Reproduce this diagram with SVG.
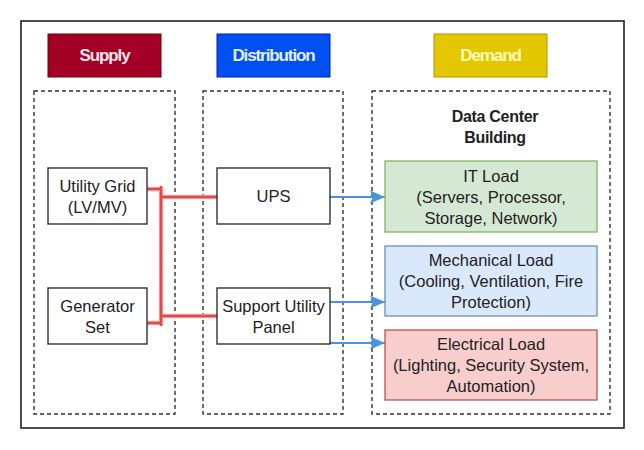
<svg xmlns="http://www.w3.org/2000/svg" width="644" height="450" viewBox="0 0 644 450">
<defs>
<marker id="ah" viewBox="0 0 15 13" refX="15" refY="6.5" markerWidth="15" markerHeight="13" markerUnits="userSpaceOnUse" orient="auto">
<path d="M0,0 L15,6.5 L0,13 L3,6.5 Z" fill="#4596de"/>
</marker>
<style>
.frame{fill:#fff;stroke:#222;stroke-width:1.6}
.dash{fill:none;stroke:#333;stroke-width:1.4;stroke-dasharray:4 3}
.node{fill:#fff;stroke:#222;stroke-width:1.3}
.hdr{font-family:"Liberation Sans",Arial,sans-serif;font-size:17px;font-weight:bold;letter-spacing:-1.1px;text-anchor:middle}
.t{font-family:"Liberation Sans",Arial,sans-serif;font-size:16.5px;fill:#222;text-anchor:middle}
.tb{font-family:"Liberation Sans",Arial,sans-serif;font-size:16px;font-weight:bold;letter-spacing:-0.3px;fill:#222;text-anchor:middle}
.red{fill:none;stroke:#e04a4a;stroke-width:2.5}
.redh{fill:none;stroke:#f4b0b0;stroke-width:4.5}
.blue{fill:none;stroke:#4596de;stroke-width:2.2}
</style>
</defs>
<rect x="0" y="0" width="644" height="450" fill="#fff"/>
<rect class="frame" x="21" y="21" width="603" height="407"/>

<g id="supply-header">
<rect x="48" y="34" width="113" height="43" fill="#a20025" stroke="#6f0000" stroke-width="1"/>
<text class="hdr" x="104.5" y="61" fill="#fde6ea">Supply</text>
</g>
<g id="distribution-header">
<rect x="217" y="34" width="113" height="43" fill="#0050ef" stroke="#001dbc" stroke-width="1"/>
<text class="hdr" x="273.5" y="61" fill="#e3eeff">Distribution</text>
</g>
<g id="demand-header">
<rect x="434" y="34" width="113" height="43" fill="#e3c800" stroke="#b09500" stroke-width="1"/>
<text class="hdr" x="490.5" y="61" fill="#fffbb8">Demand</text>
</g>

<g id="supply-group"><rect class="dash" x="34" y="91" width="141" height="323"/></g>
<g id="distribution-group"><rect class="dash" x="203" y="91" width="140" height="323"/></g>
<g id="demand-group">
<rect class="dash" x="372" y="91" width="238" height="323"/>
<text class="tb" x="495" y="122">Data Center</text>
<text class="tb" x="495" y="143">Building</text>
</g>

<g id="connectors">
<path class="redh" d="M147,189 H161 V323 H147 M161,197 H217 M161,316 H217"/>
<path class="red" d="M147,189 H161 V323 H147 M161,197 H217 M161,316 H217 M161,186 V326"/>
<path class="blue" d="M330,197 H385" marker-end="url(#ah)"/>
<path class="blue" d="M330,302 H385" marker-end="url(#ah)"/>
<path class="blue" d="M330,343 H385" marker-end="url(#ah)"/>
</g>

<g id="utility-grid">
<rect class="node" x="48" y="168" width="99" height="56"/>
<text class="t" x="97.5" y="192">Utility Grid</text>
<text class="t" x="97.5" y="213">(LV/MV)</text>
</g>
<g id="generator-set">
<rect class="node" x="48" y="288" width="99" height="56"/>
<text class="t" x="97.5" y="312">Generator</text>
<text class="t" x="97.5" y="333">Set</text>
</g>
<g id="ups">
<rect class="node" x="217" y="168" width="113" height="56"/>
<text class="t" x="273.5" y="202">UPS</text>
</g>
<g id="support-utility-panel">
<rect class="node" x="217" y="288" width="113" height="56"/>
<text class="t" x="273.5" y="312">Support Utility</text>
<text class="t" x="273.5" y="333">Panel</text>
</g>
<g id="it-load">
<rect x="385" y="161" width="212" height="71" fill="#d5e8d4" stroke="#82b366" stroke-width="1.3"/>
<text class="t" x="491" y="182">IT Load</text>
<text class="t" x="491" y="203">(Servers, Processor,</text>
<text class="t" x="491" y="224">Storage, Network)</text>
</g>
<g id="mechanical-load">
<rect x="385" y="246" width="212" height="70" fill="#dae8fc" stroke="#6c8ebf" stroke-width="1.3"/>
<text class="t" x="491" y="266">Mechanical Load</text>
<text class="t" x="491" y="287">(Cooling, Ventilation, Fire</text>
<text class="t" x="491" y="308">Protection)</text>
</g>
<g id="electrical-load">
<rect x="385" y="330" width="212" height="70" fill="#f8cecc" stroke="#b85450" stroke-width="1.3"/>
<text class="t" x="491" y="350">Electrical Load</text>
<text class="t" x="491" y="371">(Lighting, Security System,</text>
<text class="t" x="491" y="392">Automation)</text>
</g>
</svg>
